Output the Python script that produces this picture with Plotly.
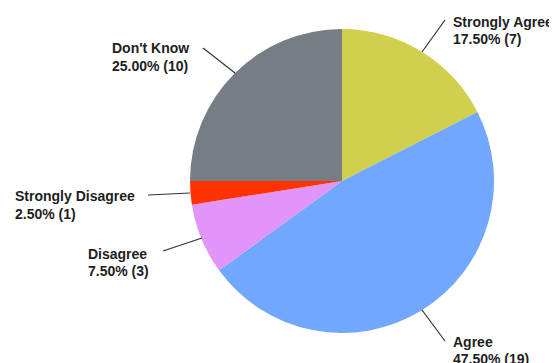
import plotly.graph_objects as go

categories = ["Strongly Agree", "Agree", "Disagree", "Strongly Disagree", "Don't Know"]
counts = [7, 19, 3, 1, 10]
percents = ["17.50%", "47.50%", "7.50%", "2.50%", "25.00%"]
colors = ["#D1D04E", "#72A7FE", "#E294F8", "#FF3300", "#767D84"]

# page body has an 8px margin; figure sized so it ends at the window edge
OFF = 8
W, H = 557 - OFF, 363 - OFF
cx, cy, r = 342 - OFF, 181 - OFF, 152

fig = go.Figure(go.Pie(
    labels=categories, values=counts, sort=False, direction="clockwise",
    rotation=0, textinfo="none", hoverinfo="label+percent+value",
    marker=dict(colors=colors, line=dict(width=0)),
    domain=dict(x=[(cx - r) / W, (cx + r) / W], y=[1 - (cy + r) / H, 1 - (cy - r) / H]),
    showlegend=False,
))

# label placement in window pixels: text left x, line1 center y, line2 center y,
# leader line from (x0,y0) to (x1,y1)
label_pos = {
    "Strongly Agree": (453, 21, 38.5, (422, 52), (445, 20)),
    "Agree": (453, 340.5, 358, (422, 310), (445, 341)),
    "Disagree": (88, 252.5, 270, (163, 251), (202, 238)),
    "Strongly Disagree": (15, 195.5, 212.5, (148, 195), (190, 193)),
    "Don't Know": (112, 47.5, 64.5, (203, 48), (235, 73)),
}

def px(x):
    return (x - OFF) / W

def py(y):
    return 1 - (y - OFF) / H

font = dict(family="Liberation Sans, Arial, sans-serif", size=14, color="#1E1E1E")

for cat, cnt, pct in zip(categories, counts, percents):
    tx, y1, y2, p0, p1 = label_pos[cat]
    for txt, yy in ((cat, y1), (f"{pct} ({cnt})", y2)):
        fig.add_annotation(
            x=px(tx - 1), y=py(yy + 1), xref="paper", yref="paper",
            xanchor="left", yanchor="middle", align="left", showarrow=False,
            text=f"<b>{txt}</b>", font=font, borderpad=0,
        )
    fig.add_shape(type="line", xref="paper", yref="paper",
                  x0=px(p0[0]), y0=py(p0[1]), x1=px(p1[0]), y1=py(p1[1]),
                  line=dict(color="#333333", width=1.2))

fig.update_layout(
    width=W, height=H, margin=dict(l=0, r=0, t=0, b=0),
    paper_bgcolor="white", plot_bgcolor="white",
)

fig.write_html("out.html")
